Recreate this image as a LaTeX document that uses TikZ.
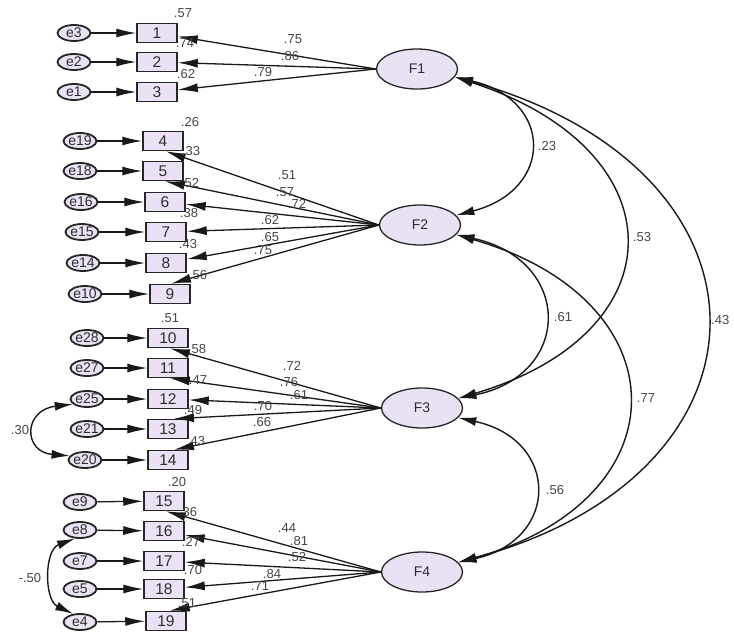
\documentclass[tikz,border=0pt]{standalone}
\usepackage{fontspec}
\setmainfont{Liberation Sans}
\usetikzlibrary{arrows.meta,shapes.geometric}
\definecolor{boxfill}{RGB}{234,226,244}
\definecolor{ellfill}{RGB}{233,226,245}
\definecolor{txt}{RGB}{45,45,45}
\definecolor{lbltxt}{RGB}{70,70,70}
\begin{document}
\begin{tikzpicture}[x=1pt,y=-1pt,
  obs/.style={draw=black!85, line width=1.5pt, fill=boxfill, minimum width=40pt, minimum height=19pt, inner sep=0pt, font=\fontsize{15.5}{15.5}\selectfont, text=txt},
  err/.style={ellipse, draw=black!85, line width=1.8pt, fill=ellfill, minimum width=33pt, minimum height=16pt, inner sep=0pt, font=\fontsize{14}{14}\selectfont, text=txt},
  lat/.style={ellipse, draw=black!85, line width=1.3pt, fill=ellfill, minimum width=81pt, minimum height=40pt, inner sep=0pt, font=\fontsize{14}{14}\selectfont, text=txt},
  lbl/.style={font=\fontsize{13}{13}\selectfont, text=lbltxt, inner sep=0pt},
  ld/.style={line width=1.3pt, draw=black!90, -{Latex[length=20pt,width=9pt]}},
  cov/.style={line width=1.4pt, draw=black!90, {Latex[length=18pt,width=9pt]}-{Latex[length=18pt,width=9pt]}}
]
\useasboundingbox (0,0) rectangle (734,635);
\fill[white] (0,0) rectangle (734,635);

% latent factors
\node[lat] (F1) at (417,69) {F1};
\node[lat] (F2) at (420,225) {F2};
\node[lat] (F3) at (422,408) {F3};
\node[lat] (F4) at (422,572) {F4};

% observed boxes
\node[obs] (b1) at (157,33) {1};
\node[obs] (b2) at (157,62) {2};
\node[obs] (b3) at (157,92) {3};
\node[obs] (b4) at (163,141) {4};
\node[obs] (b5) at (163,171) {5};
\node[obs] (b6) at (165,202) {6};
\node[obs] (b7) at (166,232) {7};
\node[obs] (b8) at (166,263) {8};
\node[obs] (b9) at (170,294) {9};
\node[obs] (b10) at (168,338) {10};
\node[obs] (b11) at (168,368) {11};
\node[obs] (b12) at (168,399) {12};
\node[obs] (b13) at (168,429) {13};
\node[obs] (b14) at (168,460) {14};
\node[obs] (b15) at (164,501) {15};
\node[obs] (b16) at (164,531) {16};
\node[obs] (b17) at (164,561) {17};
\node[obs] (b18) at (164,589) {18};
\node[obs] (b19) at (166,621) {19};

% error terms
\node[err] (e3) at (74,33) {e3};
\node[err] (e2) at (74,62) {e2};
\node[err] (e1) at (74,92) {e1};
\node[err] (e19) at (80,141) {e19};
\node[err] (e18) at (80,171) {e18};
\node[err] (e16) at (81,202) {e16};
\node[err] (e15) at (82,232) {e15};
\node[err] (e14) at (83,263) {e14};
\node[err] (e10) at (85,294) {e10};
\node[err] (e28) at (87,338) {e28};
\node[err] (e27) at (87,368) {e27};
\node[err] (e25) at (87,399) {e25};
\node[err] (e21) at (87,429) {e21};
\node[err] (e20) at (85,460) {e20};
\node[err] (e9) at (80,502) {e9};
\node[err] (e8) at (80,530) {e8};
\node[err] (e7) at (80,561) {e7};
\node[err] (e5) at (80,589) {e5};
\node[err] (e4) at (80,622) {e4};

% error -> indicator
\foreach \e/\b in {e3/b1,e2/b2,e1/b3,e19/b4,e18/b5,e16/b6,e15/b7,e14/b8,e10/b9,e28/b10,e27/b11,e25/b12,e21/b13,e20/b14,e9/b15,e8/b16,e7/b17,e5/b18,e4/b19}
  \draw[ld] (\e) -- (\b);

% loadings
\draw[ld] (F1.west) -- (b1);
\draw[ld] (F1.west) -- (b2);
\draw[ld] (F1.west) -- (b3);
\draw[ld] (F2.west) -- (b4.-75);
\draw[ld] (F2.west) -- (b5.-80);
\draw[ld] (F2.west) -- (b6);
\draw[ld] (F2.west) -- (b7);
\draw[ld] (F2.west) -- (b8);
\draw[ld] (F2.west) -- (b9.85);
\draw[ld] (F3.west) -- (b10.-80);
\draw[ld] (F3.west) -- (b11.-80);
\draw[ld] (F3.west) -- (b12);
\draw[ld] (F3.west) -- (b13.60);
\draw[ld] (F3.west) -- (b14.60);
\draw[ld] (F4.west) -- (b15.-80);
\draw[ld] (F4.west) -- (b16);
\draw[ld] (F4.west) -- (b17);
\draw[ld] (F4.west) -- (b18);
\draw[ld] (F4.west) -- (b19.70);

% error covariances
\draw[cov] (e25.200) .. controls (23,410) and (23,452) .. (e20.165);
\draw[cov] (e8.240) .. controls (44,550) and (44,600) .. (e4.130);

% factor covariances
\draw[cov] (F1.-12) .. controls (554,100) and (554,190) .. (F2.15);
\draw[cov] (F1.-12) .. controls (680,150) and (680,333) .. (F3.15);
\draw[cov] (F1.-12) .. controls (789,170) and (789,473) .. (F4.15);
\draw[cov] (F2.-15) .. controls (573,260) and (573,375) .. (F3.15);
\draw[cov] (F2.-15) .. controls (684,300) and (684,500) .. (F4.15);
\draw[cov] (F3.-15) .. controls (560,440) and (560,540) .. (F4.15);

% R-squared labels
\node[lbl] (r1) at (183,13) {.57};
\node[lbl] (r2) at (185,43) {.74};
\node[lbl] (r3) at (186,74) {.62};
\node[lbl] (r4) at (190,122) {.26};
\node[lbl] (r5) at (191,151) {.33};
\node[lbl] (r6) at (190,183) {.52};
\node[lbl] (r7) at (189,213) {.38};
\node[lbl] (r8) at (188,244) {.43};
\node[lbl] (r9) at (198,275) {.56};
\node[lbl] (r10) at (170,318) {.51};
\node[lbl] (r11) at (197,349) {.58};
\node[lbl] (r12) at (198,380) {.47};
\node[lbl] (r13) at (193,410) {.49};
\node[lbl] (r14) at (196,441) {.43};
\node[lbl] (r15) at (177,482) {.20};
\node[lbl] (r16) at (188,512) {.36};
\node[lbl] (r17) at (191,542) {.27};
\node[lbl] (r18) at (193,570) {.70};
\node[lbl] (r19) at (187,603) {.51};

% loading labels
\node[lbl] (l1) at (293,39) {.75};
\node[lbl] (l2) at (290,56) {.86};
\node[lbl] (l3) at (263,72) {.79};
\node[lbl] (l4) at (287,175) {.51};
\node[lbl] (l5) at (285,192) {.57};
\node[lbl] (l6) at (297,204) {.72};
\node[lbl] (l7) at (270,220) {.62};
\node[lbl] (l8) at (270,237) {.65};
\node[lbl] (l9) at (263,250) {.75};
\node[lbl] (l10) at (292,366) {.72};
\node[lbl] (l11) at (289,382) {.76};
\node[lbl] (l12) at (299,395) {.61};
\node[lbl] (l13) at (263,406) {.70};
\node[lbl] (l14) at (262,422) {.66};
\node[lbl] (l15) at (287,528) {.44};
\node[lbl] (l16) at (299,541) {.81};
\node[lbl] (l17) at (297,557) {.52};
\node[lbl] (l18) at (272,574) {.84};
\node[lbl] (l19) at (260,586) {.71};

% covariance labels
\node[lbl] (c1) at (547,146) {.23};
\node[lbl] (c2) at (642,237) {.53};
\node[lbl, anchor=west] (c3) at (711,320) {.43};
\node[lbl] (c4) at (563,317) {.61};
\node[lbl] (c5) at (646,398) {.77};
\node[lbl] (c6) at (555,490) {.56};
\node[lbl] (c7) at (20,430) {.30};
\node[lbl] (c8) at (30,578) {-.50};
\end{tikzpicture}
\end{document}
